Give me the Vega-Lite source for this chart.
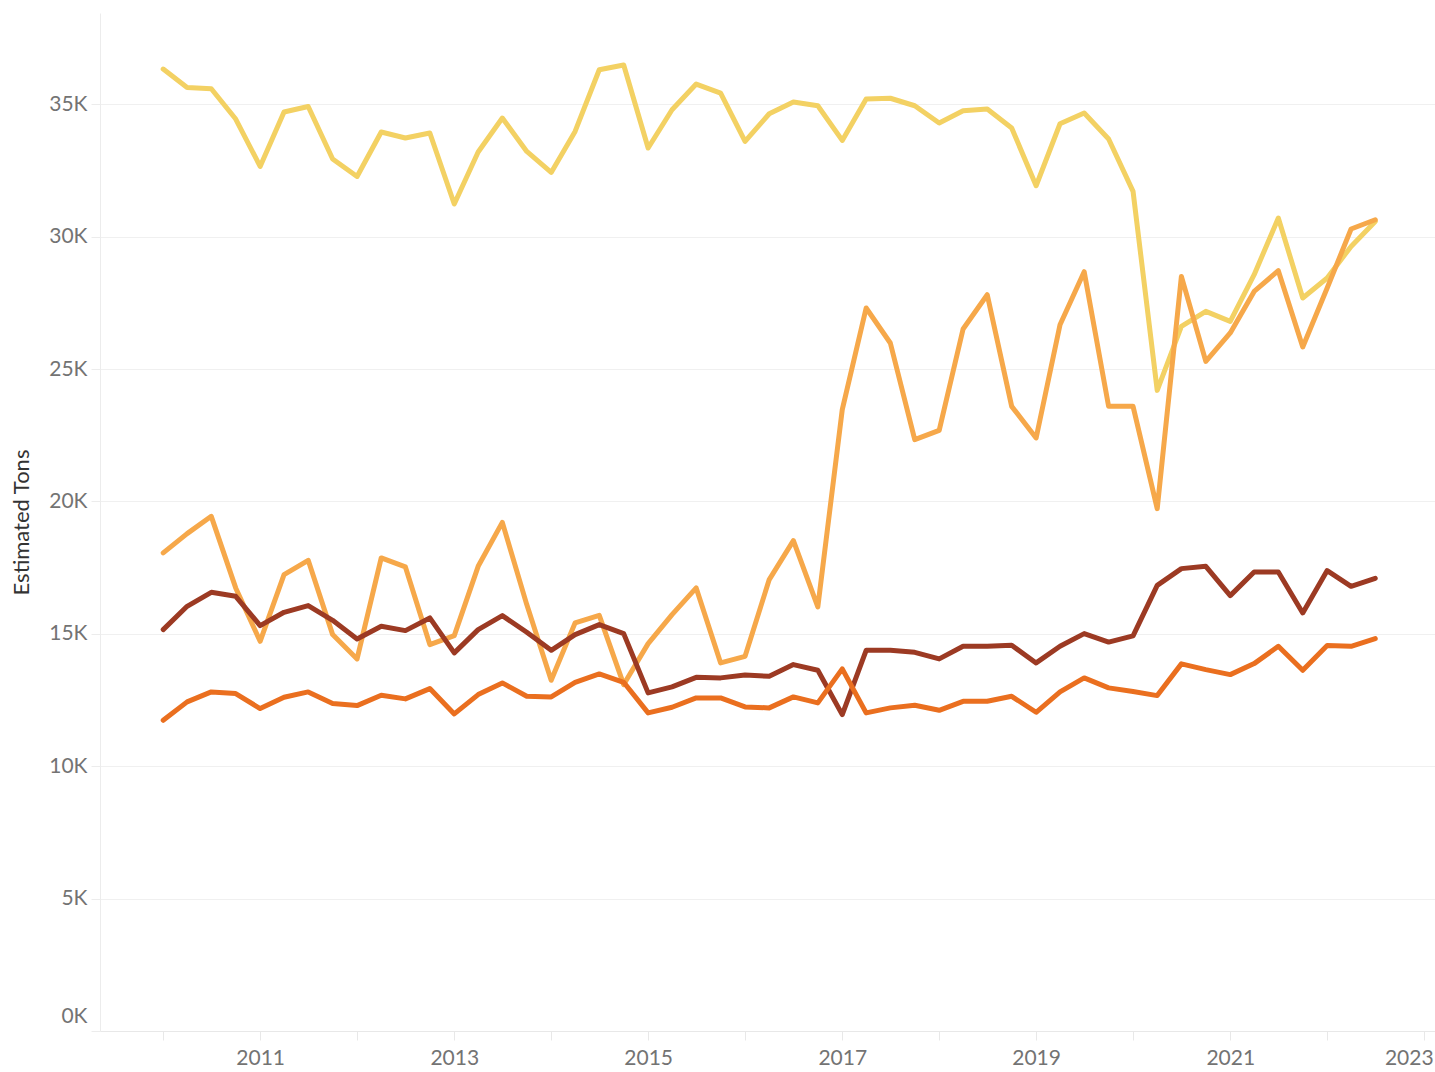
{
  "$schema": "https://vega.github.io/schema/vega-lite/v6.json",
  "width": 1335,
  "height": 1018,
  "autosize": {"type": "none"},
  "padding": {"left": 100, "top": 13, "right": 0, "bottom": 41},
  "background": "white",
  "config": {
    "view": {"stroke": null},
    "font": "Lato"
  },
  "data": {
    "values": [
      {"d": "2010-01-01", "Y": 36333, "O": 18057, "R": 15161, "D": 11736},
      {"d": "2010-04-01", "Y": 35638, "O": 18786, "R": 16040, "D": 12431},
      {"d": "2010-07-01", "Y": 35589, "O": 19439, "R": 16569, "D": 12808},
      {"d": "2010-10-01", "Y": 34445, "O": 16735, "R": 16418, "D": 12744},
      {"d": "2011-01-01", "Y": 32655, "O": 14719, "R": 15312, "D": 12178},
      {"d": "2011-04-01", "Y": 34709, "O": 17237, "R": 15814, "D": 12604},
      {"d": "2011-07-01", "Y": 34920, "O": 17777, "R": 16067, "D": 12808},
      {"d": "2011-10-01", "Y": 32934, "O": 14972, "R": 15512, "D": 12366},
      {"d": "2012-01-01", "Y": 32277, "O": 14054, "R": 14809, "D": 12291},
      {"d": "2012-04-01", "Y": 33954, "O": 17868, "R": 15285, "D": 12680},
      {"d": "2012-07-01", "Y": 33727, "O": 17528, "R": 15123, "D": 12544},
      {"d": "2012-10-01", "Y": 33916, "O": 14594, "R": 15602, "D": 12933},
      {"d": "2013-01-01", "Y": 31235, "O": 14934, "R": 14281, "D": 11977},
      {"d": "2013-04-01", "Y": 33199, "O": 17551, "R": 15161, "D": 12706},
      {"d": "2013-07-01", "Y": 34482, "O": 19212, "R": 15689, "D": 13148},
      {"d": "2013-10-01", "Y": 33221, "O": 16105, "R": 15059, "D": 12642},
      {"d": "2014-01-01", "Y": 32428, "O": 13246, "R": 14379, "D": 12619},
      {"d": "2014-04-01", "Y": 33976, "O": 15414, "R": 14972, "D": 13171},
      {"d": "2014-07-01", "Y": 36306, "O": 15701, "R": 15349, "D": 13488},
      {"d": "2014-10-01", "Y": 36484, "O": 13084, "R": 15010, "D": 13171},
      {"d": "2015-01-01", "Y": 33350, "O": 14632, "R": 12770, "D": 12015},
      {"d": "2015-04-01", "Y": 34796, "O": 15727, "R": 12997, "D": 12227},
      {"d": "2015-07-01", "Y": 35766, "O": 16735, "R": 13359, "D": 12582},
      {"d": "2015-10-01", "Y": 35426, "O": 13903, "R": 13337, "D": 12582},
      {"d": "2016-01-01", "Y": 33599, "O": 14152, "R": 13450, "D": 12242},
      {"d": "2016-04-01", "Y": 34645, "O": 17049, "R": 13397, "D": 12204},
      {"d": "2016-07-01", "Y": 35087, "O": 18521, "R": 13839, "D": 12619},
      {"d": "2016-10-01", "Y": 34947, "O": 16018, "R": 13624, "D": 12393},
      {"d": "2017-01-01", "Y": 33637, "O": 23468, "R": 11951, "D": 13677},
      {"d": "2017-04-01", "Y": 35200, "O": 27308, "R": 14379, "D": 12015},
      {"d": "2017-07-01", "Y": 35230, "O": 25986, "R": 14379, "D": 12204},
      {"d": "2017-10-01", "Y": 34947, "O": 22335, "R": 14304, "D": 12302},
      {"d": "2018-01-01", "Y": 34294, "O": 22686, "R": 14054, "D": 12113},
      {"d": "2018-04-01", "Y": 34758, "O": 26515, "R": 14530, "D": 12453},
      {"d": "2018-07-01", "Y": 34822, "O": 27810, "R": 14530, "D": 12453},
      {"d": "2018-10-01", "Y": 34105, "O": 23593, "R": 14568, "D": 12642},
      {"d": "2019-01-01", "Y": 31926, "O": 22399, "R": 13903, "D": 12038},
      {"d": "2019-04-01", "Y": 34267, "O": 26677, "R": 14530, "D": 12808},
      {"d": "2019-07-01", "Y": 34671, "O": 28679, "R": 15010, "D": 13337},
      {"d": "2019-10-01", "Y": 33689, "O": 23593, "R": 14689, "D": 12959},
      {"d": "2020-01-01", "Y": 31711, "O": 23593, "R": 14923, "D": 12820},
      {"d": "2020-04-01", "Y": 24197, "O": 19730, "R": 16833, "D": 12668},
      {"d": "2020-07-01", "Y": 26613, "O": 28501, "R": 17464, "D": 13866},
      {"d": "2020-10-01", "Y": 27180, "O": 25292, "R": 17551, "D": 13650},
      {"d": "2021-01-01", "Y": 26802, "O": 26364, "R": 16444, "D": 13461},
      {"d": "2021-04-01", "Y": 28565, "O": 27935, "R": 17339, "D": 13877},
      {"d": "2021-07-01", "Y": 30706, "O": 28716, "R": 17339, "D": 14530},
      {"d": "2021-10-01", "Y": 27686, "O": 25835, "R": 15791, "D": 13624},
      {"d": "2022-01-01", "Y": 28441, "O": 28063, "R": 17389, "D": 14557},
      {"d": "2022-04-01", "Y": 29634, "O": 30291, "R": 16796, "D": 14530},
      {"d": "2022-07-01", "Y": 30578, "O": 30642, "R": 17098, "D": 14821}
    ]
  },
  "transform": [
    {"fold": ["Y", "O", "R", "D"], "as": ["series", "tons"]}
  ],
  "mark": {"type": "line", "strokeWidth": 5, "strokeJoin": "round", "strokeCap": "round"},
  "encoding": {
    "x": {
      "field": "d",
      "type": "temporal",
      "scale": {"domain": [{"year": 2009, "month": 5, "date": 8}, {"year": 2023, "month": 2, "date": 11}], "nice": false},
      "axis": {
        "title": null,
        "values": [
          {"year": 2010, "month": 1, "date": 1}, {"year": 2011, "month": 1, "date": 1},
          {"year": 2012, "month": 1, "date": 1}, {"year": 2013, "month": 1, "date": 1},
          {"year": 2014, "month": 1, "date": 1}, {"year": 2015, "month": 1, "date": 1},
          {"year": 2016, "month": 1, "date": 1}, {"year": 2017, "month": 1, "date": 1},
          {"year": 2018, "month": 1, "date": 1}, {"year": 2019, "month": 1, "date": 1},
          {"year": 2020, "month": 1, "date": 1}, {"year": 2021, "month": 1, "date": 1},
          {"year": 2022, "month": 1, "date": 1}, {"year": 2023, "month": 1, "date": 1}
        ],
        "labelExpr": "year(datum.value) % 2 == 1 ? timeFormat(datum.value, '%Y') : ''",
        "grid": false,
        "domainColor": "#e8e8e8",
        "tickColor": "#e8e8e8",
        "tickSize": 9,
        "labelColor": "#737373",
        "labelFontSize": 21,
        "labelPadding": 7,
        "labelFlush": 15,
        "labelFlushOffset": 9,
        "labelOverlap": false
      }
    },
    "y": {
      "field": "tons",
      "type": "quantitative",
      "scale": {"domain": [0, 38450], "nice": false},
      "axis": {
        "title": "Estimated Tons",
        "values": [0, 5000, 10000, 15000, 20000, 25000, 30000, 35000],
        "labelExpr": "(datum.value / 1000) + 'K'",
        "grid": true,
        "gridColor": "#f0f0f0",
        "domainColor": "#ececec",
        "tickColor": "#ececec",
        "tickSize": 9,
        "labelColor": "#737373",
        "labelFontSize": 21,
        "labelPadding": 4,
        "labelFlush": 2,
        "labelFlushOffset": -5,
        "titleColor": "#333333",
        "titleFontSize": 22,
        "titleFontWeight": "normal",
        "titlePadding": 15
      }
    },
    "color": {
      "field": "series",
      "type": "nominal",
      "scale": {"domain": ["Y", "O", "R", "D"], "range": ["#F3D163", "#F6A84A", "#9C3A23", "#EA6F1F"]},
      "legend": null
    }
  }
}
